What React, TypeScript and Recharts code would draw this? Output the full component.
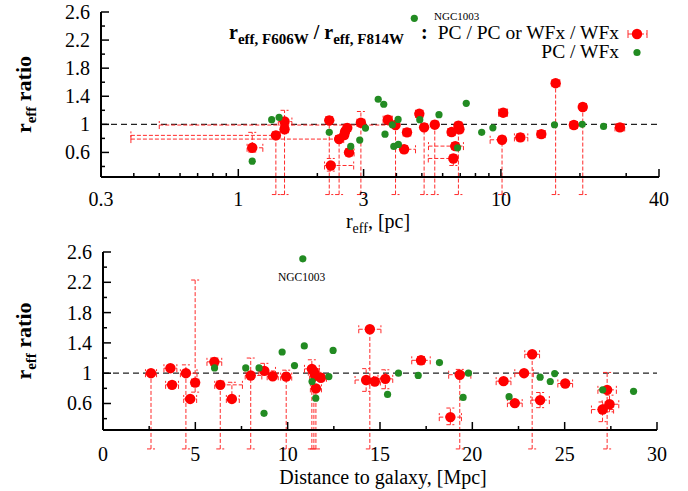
import React from 'react';
import { ScatterChart, Scatter, XAxis, YAxis, ErrorBar, ReferenceLine } from 'recharts';

const FONT = '"Liberation Serif", "Times New Roman", serif';
const RED = '#ff0000';
const GREEN = '#228b22';
const ERR = '#ff2a2a';

// ---------- tick values ----------
const TOP_X_TICKS = [0.3, 0.4, 0.5, 0.6, 0.7, 0.8, 0.9, 1, 2, 3, 4, 5, 6, 7, 8, 9, 10, 20, 30, 40];
const TOP_X_LABELS = [0.3, 1, 3, 10, 40];
const BOT_X_TICKS = [0, 2.5, 5, 7.5, 10, 12.5, 15, 17.5, 20, 22.5, 25, 27.5, 30];
const BOT_X_LABELS = [0, 5, 10, 15, 20, 25, 30];
const Y_TICKS = [0.4, 0.6, 0.8, 1, 1.2, 1.4, 1.6, 1.8, 2, 2.2, 2.4, 2.6];
const Y_LABELS = [0.6, 1, 1.4, 1.8, 2.2, 2.6];

// ---------- top panel: r_eff [pc] ----------
const topRedReff = [1.13, 1.39, 1.5, 1.5, 2.42, 2.22, 2.25, 2.53, 2.55, 2.6, 2.64, 2.93, 3.97, 3.71, 4.28, 4.39, 4.89, 5.1, 5.6, 6.49, 6.89, 6.95, 6.7, 6.59, 10.2, 10.1, 11.86, 14.25, 16.16, 18.96, 20.5, 28.4];
const topRedRatio = [0.666, 0.843, 1.04, 0.93, 0.79, 1.057, 0.414, 0.847, 0.894, 0.95, 0.6, 1.023, 0.99, 1.066, 0.645, 0.886, 1.15, 0.957, 0.995, 0.89, 0.98, 0.93, 0.69, 0.514, 1.166, 0.78, 0.814, 0.861, 1.586, 0.99, 1.247, 0.957];
const topRedReffErr: [number, number][] = [
  [0.05, 0.11], [1.0, 0.05], [0.08, 0.1], [0.05, 0.05], [2.03, 0.1], [0.06, 0.06], [0.12, 0.5], [0.06, 0.06],
  [0.06, 0.06], [0.06, 0.06], [0.06, 0.12], [0.1, 0.1], [3.47, 0.1], [0.15, 0.15], [0.1, 0.45], [0.15, 0.15],
  [0.15, 0.15], [0.1, 0.1], [0.1, 0.1], [0.2, 0.15], [0.15, 0.2], [0.1, 0.1], [1.4, 0.5], [1.3, 0.1],
  [0.4, 0.4], [1.0, 0.1], [0.6, 0.8], [0.5, 0.5], [0.5, 0.6], [0.6, 0.6], [0.5, 0.6], [1.2, 1.2],
];
const topRedRatioErr: [number, number][] = [
  [0.06, 0.22], [0.843, 0.05], [0.05, 0.16], [0.93, 0.05], [0.79, 0.05], [1.057, 0.05], [0.08, 0.1], [0.05, 0.05],
  [0.05, 0.05], [0.05, 0.05], [0.05, 0.05], [1.023, 0.16], [0.99, 0.05], [0.05, 0.05], [0.05, 0.05], [0.05, 0.05],
  [0.05, 0.05], [0.957, 0.05], [0.995, 0.05], [0.05, 0.05], [0.98, 0.05], [0.05, 0.05], [0.05, 0.05], [0.1, 0.05],
  [0.05, 0.05], [0.78, 0.05], [0.05, 0.05], [0.05, 0.05], [1.586, 0.04], [0.05, 0.05], [1.247, 0.05], [0.05, 0.05],
];
const topGreenReff = [1.13, 1.34, 1.43, 2.22, 2.68, 2.9, 3.05, 3.41, 3.58, 3.62, 3.86, 4.06, 3.91, 4.07, 4.68, 4.91, 5.81, 7.38, 6.84, 8.45, 9.32, 16.0, 20.4, 24.6];
const topGreenRatio = [0.476, 1.066, 1.1, 0.886, 0.686, 0.776, 0.947, 1.357, 1.286, 0.86, 0.994, 1.07, 0.686, 0.714, 2.51, 1.066, 1.137, 1.3, 0.666, 0.886, 0.95, 0.994, 1.0, 0.97];

// ---------- bottom panel: distance [Mpc] ----------
const botRedDist = [2.6, 3.65, 3.74, 4.49, 4.72, 4.99, 6.03, 6.35, 6.98, 8.0, 8.74, 9.19, 9.92, 11.31, 11.42, 11.49, 11.8, 11.53, 14.45, 14.25, 14.72, 15.29, 17.22, 18.81, 19.32, 21.69, 22.3, 22.8, 23.24, 23.67, 25.03, 27.3, 27.43, 27.05];
const botRedRatio = [1.0, 1.066, 0.846, 1.0, 0.66, 0.876, 1.15, 0.846, 0.66, 0.97, 1.03, 0.96, 0.955, 1.057, 1.02, 0.965, 0.94, 0.8, 1.58, 0.91, 0.89, 0.925, 1.17, 0.42, 0.98, 0.895, 0.605, 1.0, 1.25, 0.645, 0.864, 0.78, 0.59, 0.52];
const botRedDistErr: [number, number][] = [
  [0.3, 0.3], [0.35, 0.35], [0.35, 0.35], [0.3, 0.6], [0.35, 0.35], [0.2, 0.2], [0.4, 0.4], [0.3, 1.2], [0.3, 0.4],
  [0.3, 0.6], [0.3, 0.6], [0.3, 0.3], [0.3, 0.3], [0.4, 0.4], [0.3, 0.3], [0.3, 0.3], [0.3, 0.3], [0.3, 0.3],
  [0.6, 0.6], [0.6, 0.4], [0.3, 0.3], [0.4, 0.4], [0.5, 0.5], [0.6, 0.6], [0.6, 0.6], [0.4, 0.4], [0.4, 0.4],
  [0.5, 0.5], [0.4, 0.4], [0.5, 0.5], [0.4, 0.4], [0.5, 0.5], [0.4, 0.5], [0.6, 0.6],
];
const botRedRatioErr: [number, number][] = [
  [1.0, 0.03], [0.03, 0.03], [0.04, 0.04], [1.0, 0.11], [0.03, 0.03], [0.126, 1.354], [0.05, 0.05], [0.846, 0.05], [0.03, 0.22],
  [0.97, 0.23], [0.03, 0.1], [0.03, 0.03], [0.955, 0.085], [1.057, 0.12], [1.02, 0.03], [0.03, 0.03], [0.03, 0.03], [0.8, 0.03],
  [1.58, 0.03], [0.15, 0.15], [0.03, 0.03], [0.13, 0.12], [0.05, 0.05], [0.1, 0.12], [0.98, 0.07], [0.03, 0.03], [0.03, 0.03],
  [0.03, 0.03], [1.25, 0.03], [0.1, 0.1], [0.03, 0.03], [0.78, 0.23], [0.1, 0.12], [0.16, 0.1],
];
const botGreenDist = [6.04, 7.73, 8.45, 8.72, 9.7, 10.37, 10.82, 10.9, 12.46, 12.23, 11.32, 11.52, 15.41, 16.0, 17.07, 18.22, 19.5, 19.79, 21.99, 23.67, 24.22, 24.46, 27.06, 28.73];
const botGreenRatio = [1.07, 1.07, 1.07, 0.47, 1.28, 1.1, 2.51, 1.36, 1.3, 0.955, 0.89, 0.67, 0.72, 1.0, 0.97, 1.14, 0.68, 1.0, 0.69, 0.947, 0.89, 0.995, 0.78, 0.76];

const Y_DOMAIN: [number, number] = [0.25, 2.6];

function build(xs: number[], ys: number[], exs?: [number, number][], eys?: [number, number][]) {
  return xs.map((x, i) => ({ x, y: ys[i], ex: exs ? exs[i] : [0, 0], ey: eys ? eys[i] : [0, 0] }));
}

const topRed = build(topRedReff, topRedRatio, topRedReffErr, topRedRatioErr);
const topGreen = build(topGreenReff, topGreenRatio);
const botRed = build(botRedDist, botRedRatio, botRedDistErr, botRedRatioErr);
const botGreen = build(botGreenDist, botGreenRatio);

const isIn = (arr: number[], v: number) => arr.some((a) => Math.abs(a - v) < 1e-9);

function makeTick(side: 'bottom' | 'top' | 'left' | 'right', labels: number[], showLabel: boolean, labelDy = 28) {
  return (props: any) => {
    const { x, y, payload } = props;
    const v = payload.value;
    const major = isIn(labels, v);
    const len = major ? 8 : 4;
    let line: React.ReactNode = null;
    if (side === 'bottom') line = <line x1={x} y1={y} x2={x} y2={y - len} stroke="#000" strokeWidth={1.5} />;
    if (side === 'top') line = <line x1={x} y1={y} x2={x} y2={y + len} stroke="#000" strokeWidth={1.5} />;
    if (side === 'left') line = <line x1={x} y1={y} x2={x + len} y2={y} stroke="#000" strokeWidth={1.5} />;
    if (side === 'right') line = <line x1={x} y1={y} x2={x - len} y2={y} stroke="#000" strokeWidth={1.5} />;
    let label: React.ReactNode = null;
    if (showLabel && major) {
      if (side === 'bottom')
        label = (
          <text x={x} y={y + labelDy} textAnchor="middle" fontFamily={FONT} fontSize={20} fill="#000">
            {String(v)}
          </text>
        );
      if (side === 'left')
        label = (
          <text x={x - 11} y={y + 7} textAnchor="end" fontFamily={FONT} fontSize={20} fill="#000">
            {String(v)}
          </text>
        );
    }
    return (
      <g>
        {line}
        {label}
      </g>
    );
  };
}

const RedDot = (p: any) => <circle cx={p.cx} cy={p.cy} r={5.2} fill={RED} />;
const GreenDot = (p: any) => <circle cx={p.cx} cy={p.cy} r={3.6} fill={GREEN} />;

const YLabel = ({ x, y }: { x: number; y: number }) => (
  <text transform={`translate(${x},${y}) rotate(-90)`} textAnchor="middle" fontFamily={FONT} fontWeight="bold" fontSize={22} fill="#000">
    r<tspan fontSize={15} dy={5}>eff</tspan>
    <tspan dy={-5}> ratio</tspan>
  </text>
);

const errProps = { stroke: ERR, strokeWidth: 1, strokeDasharray: '4 2' };

export default function App() {
  return (
    <div style={{ position: 'absolute', left: 0, top: 0, width: 688, height: 491, background: '#fff' }}>
      {/* top panel */}
      <div style={{ position: 'absolute', left: 0, top: 0 }}>
        <ScatterChart width={688} height={240} margin={{ top: 12, right: 29, bottom: 0, left: 0 }}>
          <XAxis
            dataKey="x"
            type="number"
            scale="log"
            domain={[0.3, 40]}
            allowDataOverflow
            ticks={TOP_X_TICKS}
            interval={0}
            height={63}
            tickSize={0}
            tickMargin={0}
            tickLine={false}
            axisLine={{ stroke: '#000', strokeWidth: 2 }}
            tick={makeTick('bottom', TOP_X_LABELS, true, 29)}
            label={{
              content: (p: any) => {
                const vb = p.viewBox;
                const cx = vb.x + vb.width / 2 - 2;
                return (
                  <text x={cx} y={vb.y + 51} textAnchor="middle" fontFamily={FONT} fontSize={20} fill="#000">
                    r<tspan fontSize={14} dy={5}>eff</tspan>
                    <tspan dy={-5}>, [pc]</tspan>
                  </text>
                );
              },
            }}
          />
          <XAxis
            xAxisId="top"
            orientation="top"
            type="number"
            scale="log"
            domain={[0.3, 40]}
            allowDataOverflow
            ticks={TOP_X_TICKS}
            interval={0}
            height={0}
            tickSize={0}
            tickMargin={0}
            tickLine={false}
            axisLine={{ stroke: '#000', strokeWidth: 2 }}
            tick={makeTick('top', TOP_X_LABELS, false)}
          />
          <YAxis
            dataKey="y"
            type="number"
            domain={Y_DOMAIN}
            allowDataOverflow
            ticks={Y_TICKS}
            interval={0}
            width={101}
            tickSize={0}
            tickMargin={0}
            tickLine={false}
            axisLine={{ stroke: '#000', strokeWidth: 2 }}
            tick={makeTick('left', Y_LABELS, true)}
            label={{
              content: (p: any) => {
                const vb = p.viewBox;
                return <YLabel x={31} y={vb.y + vb.height / 2} />;
              },
            }}
          />
          <YAxis
            yAxisId="right"
            orientation="right"
            type="number"
            domain={Y_DOMAIN}
            allowDataOverflow
            ticks={Y_TICKS}
            interval={0}
            width={0}
            tickSize={0}
            tickMargin={0}
            tickLine={false}
            axisLine={{ stroke: '#000', strokeWidth: 2 }}
            tick={makeTick('right', Y_LABELS, false)}
          />
          <ReferenceLine y={1} stroke="#222" strokeWidth={1.2} strokeDasharray="6 4" />
          <Scatter data={topRed} isAnimationActive={false} shape={RedDot}>
            <ErrorBar dataKey="ex" direction="x" width={4} {...errProps} />
            <ErrorBar dataKey="ey" direction="y" width={4} {...errProps} />
          </Scatter>
          <Scatter data={topGreen} isAnimationActive={false} shape={GreenDot} />
        </ScatterChart>
        <svg width={688} height={240} style={{ position: 'absolute', left: 0, top: 0, pointerEvents: 'none' }}>
          <text x={434} y={20} fontFamily={FONT} fontSize={11} fill="#000">NGC1003</text>
          <text x={229} y={39} fontFamily={FONT} fontSize={20} fontWeight="bold" fill="#000">
            r<tspan fontSize={15} dy={5}>eff, F606W</tspan>
            <tspan dy={-5}> / r</tspan>
            <tspan fontSize={15} dy={5}>eff, F814W</tspan>
          </text>
          <text x={421} y={39} fontFamily={FONT} fontSize={20} fontWeight="bold" fill="#000">:</text>
          <text x={619} y={39} textAnchor="end" fontFamily={FONT} fontSize={19.5} fill="#000">PC / PC or WFx / WFx</text>
          <text x={619} y={58} textAnchor="end" fontFamily={FONT} fontSize={19.5} fill="#000">PC / WFx</text>
          <line x1={628} y1={34} x2={647} y2={34} stroke={ERR} strokeDasharray="4 2" />
          <line x1={628} y1={30} x2={628} y2={38} stroke={ERR} />
          <line x1={647} y1={30} x2={647} y2={38} stroke={ERR} />
          <circle cx={637} cy={34} r={5.2} fill={RED} />
          <circle cx={637} cy={52.5} r={3.6} fill={GREEN} />
        </svg>
      </div>

      {/* bottom panel */}
      <div style={{ position: 'absolute', left: 0, top: 240 }}>
        <ScatterChart width={688} height={251} margin={{ top: 12, right: 31, bottom: 0, left: 0 }}>
          <XAxis
            dataKey="x"
            type="number"
            domain={[0, 30]}
            allowDataOverflow
            ticks={BOT_X_TICKS}
            interval={0}
            height={61}
            tickSize={0}
            tickMargin={0}
            tickLine={false}
            axisLine={{ stroke: '#000', strokeWidth: 2 }}
            tick={makeTick('bottom', BOT_X_LABELS, true, 31)}
            label={{
              content: (p: any) => {
                const vb = p.viewBox;
                return (
                  <text x={vb.x + vb.width / 2 + 3} y={vb.y + 54} textAnchor="middle" fontFamily={FONT} fontSize={20} fill="#000">
                    Distance to galaxy, [Mpc]
                  </text>
                );
              },
            }}
          />
          <XAxis
            xAxisId="top"
            orientation="top"
            type="number"
            domain={[0, 30]}
            allowDataOverflow
            ticks={BOT_X_TICKS}
            interval={0}
            height={0}
            tickSize={0}
            tickMargin={0}
            tickLine={false}
            axisLine={{ stroke: '#000', strokeWidth: 2 }}
            tick={makeTick('top', BOT_X_LABELS, false)}
          />
          <YAxis
            dataKey="y"
            type="number"
            domain={Y_DOMAIN}
            allowDataOverflow
            ticks={Y_TICKS}
            interval={0}
            width={103}
            tickSize={0}
            tickMargin={0}
            tickLine={false}
            axisLine={{ stroke: '#000', strokeWidth: 2 }}
            tick={makeTick('left', Y_LABELS, true)}
            label={{
              content: (p: any) => {
                const vb = p.viewBox;
                return <YLabel x={31} y={vb.y + vb.height / 2} />;
              },
            }}
          />
          <YAxis
            yAxisId="right"
            orientation="right"
            type="number"
            domain={Y_DOMAIN}
            allowDataOverflow
            ticks={Y_TICKS}
            interval={0}
            width={0}
            tickSize={0}
            tickMargin={0}
            tickLine={false}
            axisLine={{ stroke: '#000', strokeWidth: 2 }}
            tick={makeTick('right', Y_LABELS, false)}
          />
          <ReferenceLine y={1} stroke="#222" strokeWidth={1.2} strokeDasharray="6 4" />
          <Scatter data={botRed} isAnimationActive={false} shape={RedDot}>
            <ErrorBar dataKey="ex" direction="x" width={4} {...errProps} />
            <ErrorBar dataKey="ey" direction="y" width={4} {...errProps} />
          </Scatter>
          <Scatter data={botGreen} isAnimationActive={false} shape={GreenDot} />
        </ScatterChart>
        <svg width={688} height={251} style={{ position: 'absolute', left: 0, top: 0, pointerEvents: 'none' }}>
          <text x={278} y={41} fontFamily={FONT} fontSize={11.5} fill="#000">NGC1003</text>
        </svg>
      </div>
    </div>
  );
}
